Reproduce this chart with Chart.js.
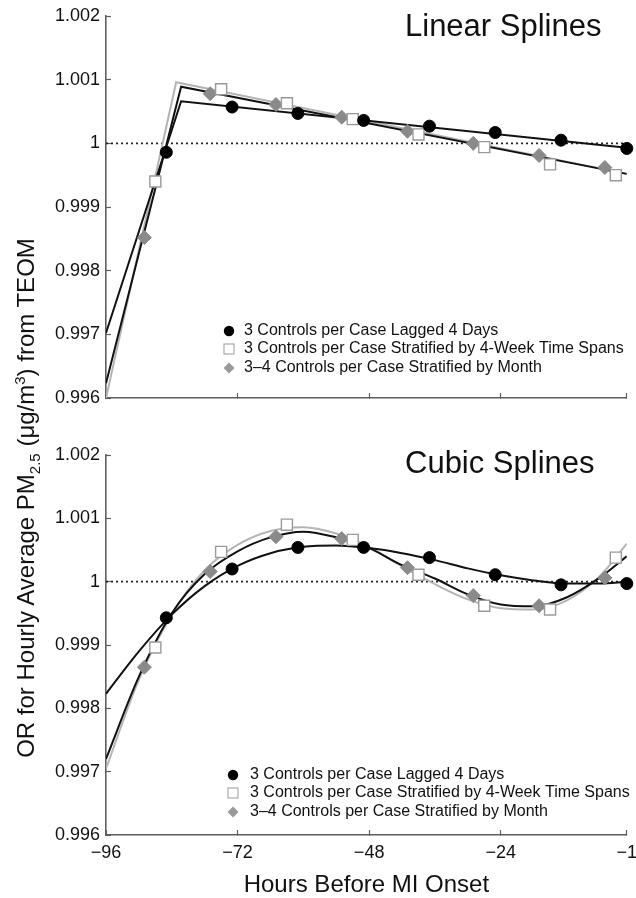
<!DOCTYPE html>
<html>
<head>
<meta charset="utf-8">
<script src="https://cdn.jsdelivr.net/npm/chart.js@4.4.1/dist/chart.umd.min.js"></script>
<style>
  html, body { margin: 0; padding: 0; background: #fff; }
  #wrap { position: relative; width: 636px; height: 898px; overflow: hidden; }
  #topPanel { position: absolute; left: 0; top: 0; }
  #bottomPanel { position: absolute; left: 0; top: 420px; }
  #ytitle {
    position: absolute; left: -273px; top: 483px; width: 600px; height: 30px;
    line-height: 30px; text-align: center; transform: rotate(-90deg);
    font: 24px "Liberation Sans", Arial, sans-serif; color: #111; white-space: nowrap;
  }
  #ytitle sub { font-size: 15px; vertical-align: -6px; line-height: 0; }
  #ytitle sup { font-size: 15px; vertical-align: 9px; line-height: 0; }
</style>
</head>
<body>
<div id="wrap">
  <canvas id="topPanel" width="636" height="420"></canvas>
  <canvas id="bottomPanel" width="636" height="478"></canvas>
  <div id="ytitle">OR for Hourly Average PM<sub>2.5</sub> (μg/m<sup>3</sup>) from TEOM</div>
</div>
<script>
// ---- data ----
const seriesNames = [
  '3 Controls per Case Lagged 4 Days',
  '3 Controls per Case Stratified by 4-Week Time Spans',
  '3–4 Controls per Case Stratified by Month'
];
const panelTitles = ['Linear Splines', 'Cubic Splines'];

const xTicks = [-96, -72, -48, -24, -1];
const xTickLabels = ['−96', '−72', '−48', '−24', '−1'];
const yTicks = [0.996, 0.997, 0.998, 0.999, 1.000, 1.001, 1.002];
const yTickLabels = ['0.996', '0.997', '0.998', '0.999', '1', '1.001', '1.002'];

// hours of the point estimates for each design
const hoursLagged   = [-85, -73, -61, -49, -37, -25, -13, -1];
const hoursFourWeek = [-87, -75, -63, -51, -39, -27, -15, -3];
const hoursMonth    = [-89, -77, -65, -53, -41, -29, -17, -5];

// linear splines: point estimates
const linLagged   = [0.99986, 1.00057, 1.00047, 1.00036, 1.00027, 1.00017, 1.00005, 0.99992];
const linFourWeek = [0.99940, 1.00085, 1.00063, 1.00038, 1.00014, 0.99994, 0.99967, 0.99950];
const linMonth    = [0.99852, 1.00078, 1.00061, 1.00041, 1.00019, 1.00000, 0.99981, 0.99962];

// linear splines: fitted curves (start, knot, end)
const linFitHoursLagged   = [-96, -82.3, -1];
const linFitLagged        = [0.99702, 1.00066, 0.99993];
const linFitHoursFourWeek = [-96, -83.2, -1];
const linFitFourWeek      = [0.99600, 1.00096, 0.99952];
const linFitHoursMonth    = [-96, -82.3, -1];
const linFitMonth         = [0.99623, 1.00089, 0.99952];

// cubic splines: point estimates
const cubLagged   = [0.99943, 1.00020, 1.00054, 1.00054, 1.00038, 1.00011, 0.99995, 0.99997];
const cubFourWeek = [0.99896, 1.00047, 1.00090, 1.00066, 1.00011, 0.99962, 0.99956, 1.00038];
const cubMonth    = [0.99865, 1.00016, 1.00071, 1.00068, 1.00022, 0.99978, 0.99962, 1.00006];

// cubic splines: fitted curves
const cubFitHours    = [-96, -90, -84, -78, -72, -66, -60, -54, -48, -42, -36, -30, -24, -18, -12, -6, -1];
const cubFitLagged   = [0.99823, 0.99890, 0.99948, 0.99993, 1.00025, 1.00045, 1.00055, 1.00057, 1.00053, 1.00045, 1.00034, 1.00021, 1.00010, 1.00002, 0.99997, 0.99997, 1.00000];
const cubFitFourWeek = [0.99705, 0.99845, 0.99948, 1.00018, 1.00058, 1.00080, 1.00086, 1.00076, 1.00055, 1.00024, 0.99996, 0.99972, 0.99958, 0.99956, 0.99970, 1.00008, 1.00060];
const cubFitMonth    = [0.99720, 0.99850, 0.99950, 1.00012, 1.00048, 1.00070, 1.00079, 1.00070, 1.00053, 1.00026, 1.00005, 0.99980, 0.99964, 0.99961, 0.99975, 1.00006, 1.00040];

const refHours = [-96, -1];
const refValues = [1, 1];

// ---- styling ----
const FONT = '"Liberation Sans", Arial, Helvetica, sans-serif';
const AXIS_GREY = '#5e5e5e';
const FIT_GREY = '#b4b4b4';
const DIAMOND_GREY = '#8a8a8a';
const SQUARE_EDGE = '#9a9a9a';

const pts = (xs, ys) => xs.map((x, i) => ({ x, y: ys[i] }));

function markerDataset(idx, xs, ys) {
  const styles = [
    { pointStyle: 'circle', pointRadius: 6, pointBackgroundColor: '#000', pointBorderColor: '#000', pointBorderWidth: 1 },
    { pointStyle: 'rect', pointRadius: 7.8, pointBackgroundColor: '#fff', pointBorderColor: SQUARE_EDGE, pointBorderWidth: 1.4 },
    { pointStyle: 'rectRot', pointRadius: 7, pointBackgroundColor: DIAMOND_GREY, pointBorderColor: DIAMOND_GREY, pointBorderWidth: 1 }
  ];
  return Object.assign({
    label: seriesNames[idx],
    data: pts(xs, ys),
    showLine: false,
    legendEntry: idx,
    order: idx,
    clip: false
  }, styles[idx]);
}

function fitDataset(xs, ys, color, smooth, order) {
  return {
    data: pts(xs, ys),
    borderColor: color,
    borderWidth: 2,
    pointRadius: 0,
    fill: false,
    cubicInterpolationMode: smooth ? 'monotone' : 'default',
    tension: 0,
    order: order
  };
}

function refDataset() {
  return {
    data: pts(refHours, refValues),
    borderColor: '#222',
    borderWidth: 1.6,
    borderDash: [2, 3],
    pointRadius: 0,
    order: 20
  };
}

// Draws the panel heading and the in-plot key
const panelDecor = {
  id: 'panelDecor',
  afterDraw(chart, args, opts) {
    const ctx = chart.ctx;
    ctx.save();
    ctx.fillStyle = '#111';
    ctx.font = '31px ' + FONT;
    ctx.textAlign = 'left';
    ctx.textBaseline = 'alphabetic';
    ctx.fillText(opts.title, opts.titleX, opts.titleY);

    ctx.font = opts.keyFont + 'px ' + FONT;
    ctx.textBaseline = 'middle';
    chart.data.datasets.forEach(ds => {
      if (ds.legendEntry === undefined) return;
      const i = ds.legendEntry;
      const y = opts.keyY[i];
      const mx = opts.keyMarkerX;
      ctx.save();
      if (i === 0) {
        ctx.fillStyle = '#000';
        ctx.beginPath(); ctx.arc(mx, y, 5.2, 0, Math.PI * 2); ctx.fill();
      } else if (i === 1) {
        ctx.fillStyle = '#fff'; ctx.strokeStyle = '#aaa'; ctx.lineWidth = 1.2;
        ctx.fillRect(mx - 5, y - 5, 10, 10); ctx.strokeRect(mx - 5, y - 5, 10, 10);
      } else {
        ctx.fillStyle = '#9a9a9a';
        ctx.beginPath();
        ctx.moveTo(mx, y - 5.5); ctx.lineTo(mx + 5.5, y); ctx.lineTo(mx, y + 5.5); ctx.lineTo(mx - 5.5, y);
        ctx.closePath(); ctx.fill();
      }
      ctx.restore();
      ctx.fillStyle = '#111';
      ctx.fillText(ds.label, opts.keyTextX, y);
    });
    ctx.restore();
  }
};

function makePanel(canvasId, datasets, cfg) {
  return new Chart(document.getElementById(canvasId), {
    type: 'line',
    data: { datasets },
    plugins: [panelDecor],
    options: {
      responsive: false,
      animation: false,
      events: [],
      layout: { padding: { left: 0, right: 4, top: cfg.top, bottom: 0 } },
      plugins: {
        legend: { display: false },
        tooltip: { enabled: false },
        panelDecor: cfg.decor
      },
      scales: {
        x: {
          type: 'linear',
          min: -96, max: -1,
          afterBuildTicks: s => { s.ticks = xTicks.map(v => ({ value: v })); },
          // fixed height; the last tick label may run to the canvas edge
          afterFit: s => { s.height = cfg.xHeight; s.paddingLeft = 0; s.paddingRight = 0; },
          ticks: {
            display: cfg.showXLabels,
            autoSkip: false, maxRotation: 0, padding: 12,
            color: '#111',
            font: { family: FONT, size: 18 },
            callback: v => xTickLabels[xTicks.indexOf(v)]
          },
          grid: { drawOnChartArea: false, tickLength: -5, tickColor: AXIS_GREY, tickWidth: 1.2 },
          border: { color: AXIS_GREY, width: 1.6 },
          title: cfg.xTitle ? {
            display: true, text: 'Hours Before MI Onset', color: '#111',
            font: { family: FONT, size: 24, lineHeight: 1.05 },
            padding: { top: 0, bottom: 0 }
          } : { display: false }
        },
        y: {
          type: 'linear',
          min: 0.996, max: 1.002,
          afterBuildTicks: s => { s.ticks = yTicks.map(v => ({ value: v })); },
          afterFit: s => { s.width = 106; s.paddingTop = 0; s.paddingBottom = 0; },
          ticks: {
            padding: 11,
            color: '#111',
            font: { family: FONT, size: 18 },
            callback: v => yTickLabels[yTicks.findIndex(t => Math.abs(t - v) < 1e-9)]
          },
          grid: { drawOnChartArea: false, tickLength: -5, tickColor: AXIS_GREY, tickWidth: 1.2 },
          border: { color: AXIS_GREY, width: 1.6 }
        }
      }
    }
  });
}

// Linear splines panel
makePanel('topPanel', [
  markerDataset(0, hoursLagged, linLagged),
  markerDataset(1, hoursFourWeek, linFourWeek),
  markerDataset(2, hoursMonth, linMonth),
  fitDataset(linFitHoursLagged, linFitLagged, '#111', false, 6),
  fitDataset(linFitHoursMonth, linFitMonth, '#111', false, 7),
  fitDataset(linFitHoursFourWeek, linFitFourWeek, FIT_GREY, false, 8),
  refDataset()
], {
  top: 16, xHeight: 22, showXLabels: false, xTitle: false,
  decor: { title: panelTitles[0], titleX: 405, titleY: 36, keyFont: 16, keyMarkerX: 229, keyTextX: 244, keyY: [331, 349, 368] }
});

// Cubic splines panel
makePanel('bottomPanel', [
  markerDataset(0, hoursLagged, cubLagged),
  markerDataset(1, hoursFourWeek, cubFourWeek),
  markerDataset(2, hoursMonth, cubMonth),
  fitDataset(cubFitHours, cubFitLagged, '#111', true, 6),
  fitDataset(cubFitHours, cubFitMonth, '#111', true, 7),
  fitDataset(cubFitHours, cubFitFourWeek, FIT_GREY, true, 8),
  refDataset()
], {
  top: 35, xHeight: 63, showXLabels: true, xTitle: true,
  decor: { title: panelTitles[1], titleX: 405, titleY: 53, keyFont: 16, keyMarkerX: 233, keyTextX: 250, keyY: [355, 373, 392] }
});
</script>
</body>
</html>
